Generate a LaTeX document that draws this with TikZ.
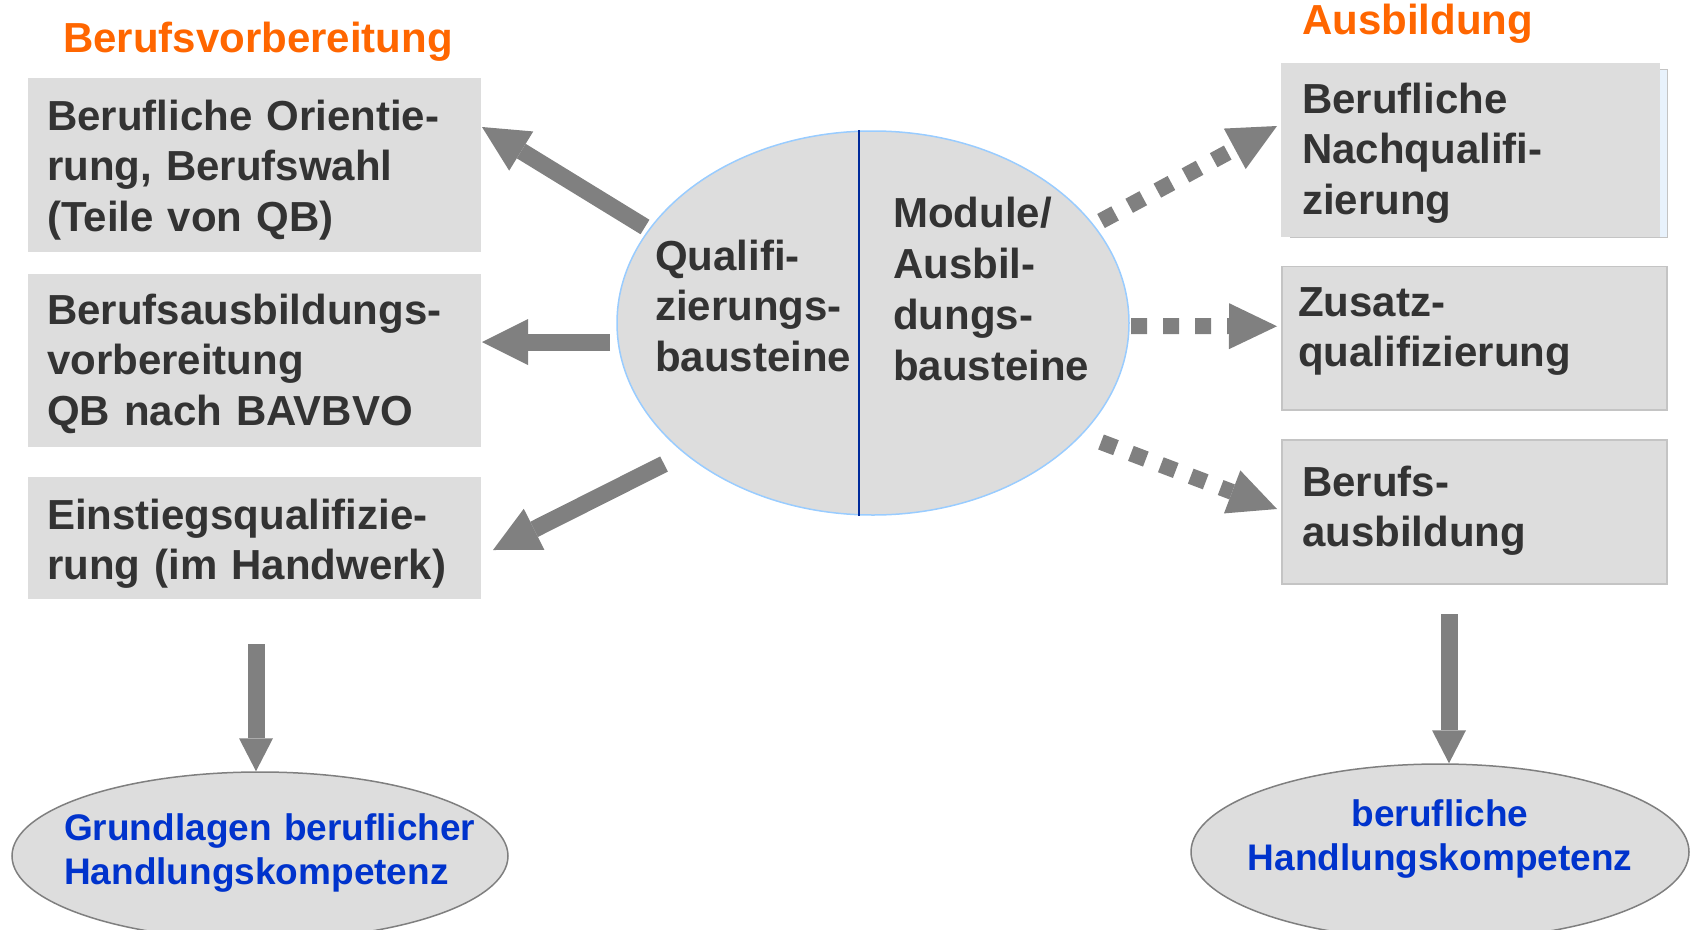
\documentclass[tikz,border=0pt]{standalone}
\usepackage{fontspec}
\setmainfont{Liberation Sans}
\usetikzlibrary{arrows.meta,shapes.geometric}
\definecolor{boxgray}{HTML}{DDDDDD}
\definecolor{textdark}{HTML}{333333}
\definecolor{titleorange}{HTML}{FF6600}
\definecolor{arrowgray}{HTML}{808080}
\definecolor{textblue}{HTML}{0033CC}
\definecolor{ellblue}{HTML}{99CCFF}
\definecolor{divblue}{HTML}{002A9A}
\definecolor{ellgray}{HTML}{7F7F7F}
\definecolor{boxborder}{HTML}{C4C4C4}
\definecolor{lightblue}{HTML}{E8F2FC}
\begin{document}
\begin{tikzpicture}[x=1pt,y=-1pt,
  box/.style={rectangle, fill=boxgray, inner sep=0pt, outer sep=0pt},
  boxtext/.style={anchor=base west, inner sep=0pt, text width=#1, align=left, text=textdark,
    font={\fontsize{42pt}{50.5pt}\selectfont\bfseries}},
  titletext/.style={anchor=base west, inner sep=0pt, text=titleorange,
    font={\fontsize{42pt}{50pt}\selectfont\bfseries}},
  bottomtext/.style={inner sep=0pt, text width=#1, text=textblue,
    font={\fontsize{37pt}{44pt}\selectfont\bfseries}},
  solidarrow/.style={draw=arrowgray, line width=17pt, -{Triangle[length=46pt,width=46pt,line width=0pt]}},
  dotarrow/.style={draw=arrowgray, line width=16pt, dash pattern=on 16pt off 16pt, -{Triangle[length=48pt,width=46pt,line width=0pt]}},
  downarrow/.style={draw=arrowgray, line width=17pt, -{Triangle[length=33pt,width=34pt,line width=0pt]}}
]
\useasboundingbox (0,0) rectangle (1692,929);

% titles
\node[titletext] (tl) at (63,52) {Berufsvorbereitung};
\node[titletext] (tr) at (1302,34.5) {Ausbildung};

% left boxes
\node[box, minimum width=453pt, minimum height=174pt] (b1) at (254.5,165) {};
\node[box, minimum width=453pt, minimum height=173pt] (b2) at (254.5,360.5) {};
\node[box, minimum width=453pt, minimum height=122pt] (b3) at (254.5,538) {};
\node[boxtext=440pt] (b1t) at (47,130) {Berufliche Orientie-\\rung, Berufswahl\\(Teile von QB)};
\node[boxtext=440pt] (b2t) at (47,324) {Berufsausbildungs-\\vorbereitung\\QB nach BAVBVO};
\node[boxtext=440pt] (b3t) at (47,529) {Einstiegsqualifizie-\\rung (im Handwerk)};

% right boxes
\node[rectangle, draw=boxborder, line width=1pt, fill=lightblue, inner sep=0pt, minimum width=377pt, minimum height=168pt] (r1bg) at (1478.5,153) {};
\node[box, minimum width=379pt, minimum height=174pt] (r1) at (1470.5,150) {};
\node[box, draw=boxborder, line width=1.5pt, minimum width=385pt, minimum height=143.5pt] (r2) at (1474.5,338.25) {};
\node[box, draw=boxborder, line width=1.5pt, minimum width=385pt, minimum height=144pt] (r3) at (1474.5,512) {};
\node[boxtext=360pt] (r1t) at (1302,113) {Berufliche\\Nachqualifi-\\zierung};
\node[boxtext=360pt] (r2t) at (1298,316) {Zusatz-\\qualifizierung};
\node[boxtext=360pt] (r3t) at (1302,496) {Berufs-\\ausbildung};

% centre ellipse
\node[ellipse, draw=ellblue, line width=1.5pt, fill=boxgray, inner sep=0pt,
  minimum width=512pt, minimum height=384pt] (ce) at (873,323) {};
\draw[divblue, line width=1.5pt] ([xshift=-14pt]ce.north) -- ([xshift=-14pt]ce.south);
\node[boxtext=230pt] (cl) at (655,270) {Qualifi-\\zierungs-\\bausteine};
\node[boxtext=240pt, font={\fontsize{42pt}{51pt}\selectfont\bfseries}] (cr) at (893,227) {Module/\\Ausbil-\\dungs-\\bausteine};

% bottom ellipses
\node[ellipse, draw=ellgray, line width=1.5pt, fill=boxgray, inner sep=0pt,
  minimum width=496pt, minimum height=168pt] (bl) at (260,856) {};
\node[ellipse, draw=ellgray, line width=1.5pt, fill=boxgray, inner sep=0pt,
  minimum width=498pt, minimum height=176pt] (br) at (1440,852) {};
\node[bottomtext=440pt, anchor=base west, align=left] (blt) at (64,840) {Grundlagen beruflicher\\Handlungskompetenz};
\node[bottomtext=480pt, anchor=base, align=center] (brt) at (1440,826) {berufliche\\Handlungskompetenz};

% arrow start points
\coordinate (a1s) at (645,227);
\coordinate (a2s) at (610,342);
\coordinate (a3s) at (664,464);
\coordinate (r1s) at (1101,221);
\coordinate (r2s) at (1131,326);
\coordinate (r3s) at (1101,442);
\coordinate (bls) at (256,644);
\coordinate (brs) at (1449,614);

% left solid arrows
\draw[solidarrow] (a1s) -- ([shift={(1pt,38pt)}]b1.east);
\draw[solidarrow] (a2s) -- ([shift={(1pt,18.5pt)}]b2.east);
\draw[solidarrow] (a3s) -- ([shift={(12pt,-12pt)}]b3.east);

% right dotted arrows
\draw[dotarrow] (r1s) -- ([shift={(-4pt,24pt)}]r1.west);
\draw[dotarrow] (r2s) -- ([shift={(-5pt,12pt)}]r2.west);
\draw[dotarrow] (r3s) -- ([shift={(-5pt,3pt)}]r3.west);

% down arrows
\draw[downarrow] (bls) -- (bls |- bl.north);
\draw[downarrow] (brs) -- (brs |- br.north);
\end{tikzpicture}
\end{document}
